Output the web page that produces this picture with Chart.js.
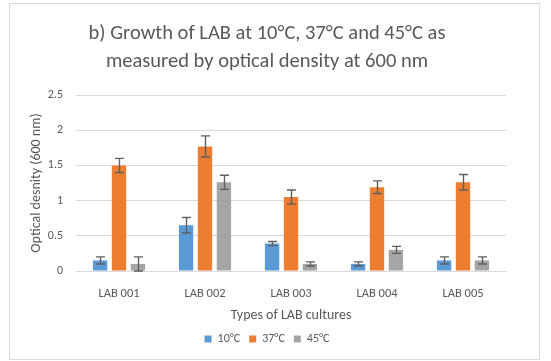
<!DOCTYPE html>
<html>
<head>
<meta charset="utf-8">
<script src="https://cdn.jsdelivr.net/npm/chart.js@4/dist/chart.umd.min.js"></script>
<style>
  body { margin: 0; background: #fff; }
  #box {
    position: absolute; left: 9px; top: 3px; width: 529px; height: 355px;
    border: 1px solid #d9d9d9; background: #fff;
  }
  canvas { display: block; }
</style>
</head>
<body>
<div id="box"><canvas id="chart" width="529" height="355"></canvas></div>
<script>
// data
const cultures = ["LAB 001", "LAB 002", "LAB 003", "LAB 004", "LAB 005"];
const seriesNames = ["10°C", "37°C", "45°C"];
const od10 = [0.15, 0.65, 0.39, 0.10, 0.15];
const od37 = [1.50, 1.77, 1.05, 1.19, 1.26];
const od45 = [0.10, 1.26, 0.10, 0.30, 0.15];
const err10 = [0.05, 0.11, 0.03, 0.03, 0.05];
const err37 = [0.10, 0.15, 0.10, 0.09, 0.11];
const err45 = [0.10, 0.10, 0.03, 0.05, 0.05];
const yTicks = [0, 0.5, 1, 1.5, 2, 2.5];

const colors = ["#5b9bd5", "#ed7d31", "#a5a5a5"];
const textColor = "#595959";
const font = "Calibri, Carlito, Lato, sans-serif";

// draws the error bars from each dataset's "errors" list
const errorBars = {
    id: "errorBars",
    afterDatasetsDraw(chart) {
        const ctx = chart.ctx;
        const y = chart.scales.y;
        ctx.save();
        ctx.strokeStyle = "#5f5f5f";
        ctx.lineWidth = 1.4;
        chart.data.datasets.forEach((ds, i) => {
            const meta = chart.getDatasetMeta(i);
            meta.data.forEach((bar, j) => {
                const v = ds.data[j];
                const e = ds.errors[j];
                const top = y.getPixelForValue(v + e);
                const bottom = y.getPixelForValue(Math.max(v - e, 0));
                const x = Math.round(bar.x) + 0.5;
                ctx.beginPath();
                ctx.moveTo(x, top);
                ctx.lineTo(x, bottom);
                ctx.moveTo(x - 4.5, top);
                ctx.lineTo(x + 4.5, top);
                ctx.moveTo(x - 4.5, bottom);
                ctx.lineTo(x + 4.5, bottom);
                ctx.stroke();
            });
        });
        ctx.restore();
    }
};

const values = [od10, od37, od45];
const errors = [err10, err37, err45];

new Chart(document.getElementById("chart"), {
    type: "bar",
    data: {
        labels: cultures,
        datasets: seriesNames.map((name, i) => ({
            label: name,
            data: values[i],
            errors: errors[i],
            backgroundColor: colors[i],
            borderWidth: 0,
            categoryPercentage: 0.66,
            barPercentage: 0.76
        }))
    },
    options: {
        responsive: false,
        animation: false,
        layout: { padding: { left: 18, right: 33, top: 4, bottom: 4 } },
        plugins: {
            title: {
                display: true,
                text: ["b) Growth of LAB at 10°C, 37°C and 45°C as", "measured by optical density at 600 nm"],
                color: textColor,
                font: { family: font, size: 20.5, weight: "normal", lineHeight: 1.366 },
                padding: { top: 12, bottom: 19 }
            },
            legend: {
                position: "bottom",
                labels: {
                    color: textColor,
                    font: { family: font, size: 12 },
                    boxWidth: 7,
                    boxHeight: 7,
                    padding: 9
                }
            },
            tooltip: { enabled: false }
        },
        scales: {
            x: {
                afterFit(axis) { axis.height = 53; },
                grid: { display: false, drawTicks: false },
                border: { color: "#d9d9d9" },
                ticks: { color: textColor, font: { family: font, size: 12.5 }, padding: 15 },
                title: {
                    display: true,
                    text: "Types of LAB cultures",
                    color: textColor,
                    font: { family: font, size: 14 },
                    padding: { top: 0, bottom: 0 }
                }
            },
            y: {
                min: 0,
                max: 2.5,
                afterBuildTicks(axis) { axis.ticks = yTicks.map(v => ({ value: v })); },
                afterFit(axis) { axis.width = 48; },
                grid: { color: "#d9d9d9", drawTicks: false },
                border: { display: false },
                ticks: {
                    color: textColor,
                    font: { family: font, size: 12 },
                    padding: 13,
                    callback: v => String(v)
                },
                title: {
                    display: true,
                    text: "Optical desnity (600 nm)",
                    color: textColor,
                    font: { family: font, size: 14 },
                    padding: { top: 0, bottom: 0 }
                }
            }
        }
    },
    plugins: [errorBars]
});
</script>
</body>
</html>
